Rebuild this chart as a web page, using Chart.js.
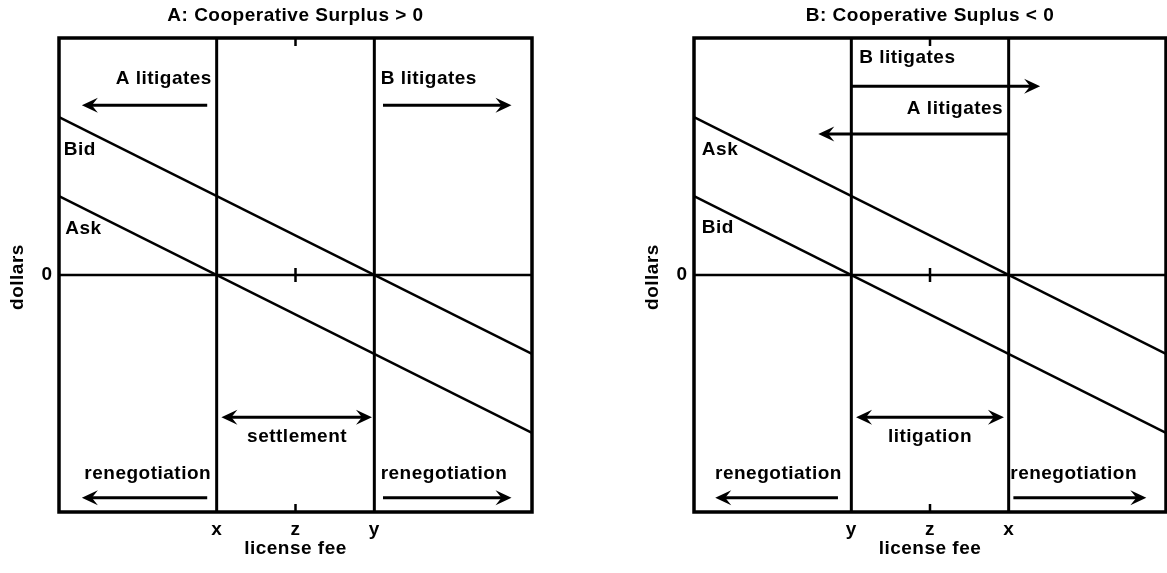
<!DOCTYPE html>
<html>
<head>
<meta charset="utf-8">
<script src="https://cdn.jsdelivr.net/npm/chart.js@4.4.1/dist/chart.umd.min.js"></script>
<style>
  body { margin: 0; background: #fff; }
  #wrap { position: relative; width: 1167px; height: 573px; }
  canvas { position: absolute; top: 0; }
</style>
</head>
<body>
<div id="wrap">
  <canvas id="panelA" width="583" height="573" style="left:0"></canvas>
  <canvas id="panelB" width="584" height="573" style="left:583px"></canvas>
</div>
<script>
// --- data
const feeRange = [0, 3];
const dollarRange = [-3, 3];
const fee = [0, 3];            // ends of both schedules
const upperSchedule = [2, -1]; // crosses zero at fee = 2
const lowerSchedule = [1, -2]; // crosses zero at fee = 1
const cutoffs = [1, 2];
const feeTicks = [1, 1.5, 2];
const feeTickLabelsA = ["x", "z", "y"];
const feeTickLabelsB = ["y", "z", "x"];
const dollarTicks = [0];
const dollarTickLabels = ["0"];
const titles = ["A: Cooperative Surplus > 0", "B: Cooperative Suplus < 0"];
const scheduleNamesA = ["Bid", "Ask"];
const scheduleNamesB = ["Ask", "Bid"];

// texts and arrows, in data units
const notesA = [
  { text: "A litigates", x: 0.97, y: 2.49, align: "right" },
  { text: "B litigates", x: 2.04, y: 2.49, align: "left" },
  { text: scheduleNamesA[0], x: 0.03, y: 1.58, align: "left" },
  { text: scheduleNamesA[1], x: 0.04, y: 0.58, align: "left" },
  { text: "settlement", x: 1.51, y: -2.05, align: "center" },
  { text: "renegotiation", x: 0.965, y: -2.52, align: "right" },
  { text: "renegotiation", x: 2.04, y: -2.52, align: "left" },
];
const arrowsA = [
  { from: [0.94, 2.15], to: [0.145, 2.15] },
  { from: [2.055, 2.15], to: [2.87, 2.15] },
  { from: [0.94, -2.82], to: [0.145, -2.82] },
  { from: [2.055, -2.82], to: [2.87, -2.82] },
  { from: [1.03, -1.8], to: [1.985, -1.8], both: true },
];
const notesB = [
  { text: "B litigates", x: 1.05, y: 2.75, align: "left" },
  { text: "A litigates", x: 1.965, y: 2.1, align: "right" },
  { text: scheduleNamesB[0], x: 0.05, y: 1.58, align: "left" },
  { text: scheduleNamesB[1], x: 0.05, y: 0.6, align: "left" },
  { text: "litigation", x: 1.5, y: -2.05, align: "center" },
  { text: "renegotiation", x: 0.94, y: -2.52, align: "right" },
  { text: "renegotiation", x: 2.01, y: -2.52, align: "left" },
];
const arrowsB = [
  { from: [1.004, 2.39], to: [2.2, 2.39] },
  { from: [1.996, 1.785], to: [0.79, 1.785] },
  { from: [0.915, -2.82], to: [0.135, -2.82] },
  { from: [2.03, -2.82], to: [2.875, -2.82] },
  { from: [1.03, -1.8], to: [1.97, -1.8], both: true },
];

const FONT = 'bold 19px "Liberation Sans", Arial, sans-serif';

function head(ctx, x0, y0, x1, y1) {
  const a = Math.atan2(y1 - y0, x1 - x0);
  const L = 16, W = 7.5, N = 10;
  ctx.save();
  ctx.translate(x1, y1);
  ctx.rotate(a);
  ctx.beginPath();
  ctx.moveTo(0, 0);
  ctx.lineTo(-L, -W);
  ctx.lineTo(-N, 0);
  ctx.lineTo(-L, W);
  ctx.closePath();
  ctx.fill();
  ctx.restore();
}

const panelDecor = {
  id: "panelDecor",
  afterDraw(chart, args, opts) {
    const { ctx, chartArea: ca, scales } = chart;
    const sx = scales.x, sy = scales.y;
    ctx.save();
    ctx.strokeStyle = "#000";
    ctx.fillStyle = "#000";
    ctx.lineCap = "butt";

    // frame
    ctx.lineWidth = 3.5;
    ctx.strokeRect(ca.left, ca.top, ca.right - ca.left, ca.bottom - ca.top);

    // z tick marks
    const zx = sx.getPixelForValue(feeTicks[1]);
    const y0 = sy.getPixelForValue(0);
    ctx.lineWidth = 2.5;
    ctx.beginPath();
    ctx.moveTo(zx, ca.top); ctx.lineTo(zx, ca.top + 8);
    ctx.moveTo(zx, ca.bottom); ctx.lineTo(zx, ca.bottom - 8);
    ctx.moveTo(zx, y0 - 7); ctx.lineTo(zx, y0 + 7);
    ctx.stroke();

    ctx.font = FONT;
    ctx.letterSpacing = "0.5px";
    ctx.textBaseline = "middle";

    // tick labels
    ctx.textAlign = "center";
    feeTicks.forEach((v, i) => {
      ctx.fillText(opts.feeLabels[i], sx.getPixelForValue(v), ca.bottom + 18);
    });
    dollarTicks.forEach((v, i) => {
      ctx.fillText(dollarTickLabels[i], ca.left - 12, sy.getPixelForValue(v));
    });

    // axis titles
    ctx.fillText("license fee", (ca.left + ca.right) / 2, ca.bottom + 37);
    ctx.save();
    ctx.translate(ca.left - 41, (ca.top + ca.bottom) / 2 + 2);
    ctx.rotate(-Math.PI / 2);
    ctx.fillText("dollars", 0, 0);
    ctx.restore();

    // panel title
    ctx.fillText(opts.title, (ca.left + ca.right) / 2, 16);

    // notes
    opts.notes.forEach(n => {
      ctx.textAlign = n.align;
      ctx.fillText(n.text, sx.getPixelForValue(n.x), sy.getPixelForValue(n.y));
    });

    // arrows
    ctx.lineWidth = 3;
    opts.arrows.forEach(a => {
      const x0 = sx.getPixelForValue(a.from[0]), yy0 = sy.getPixelForValue(a.from[1]);
      const x1 = sx.getPixelForValue(a.to[0]), yy1 = sy.getPixelForValue(a.to[1]);
      const dir = Math.sign(x1 - x0);
      ctx.beginPath();
      ctx.moveTo(x0 + (a.both ? dir * 8 : 0), yy0);
      ctx.lineTo(x1 - dir * 8, yy1);
      ctx.stroke();
      head(ctx, x0, yy0, x1, yy1);
      if (a.both) head(ctx, x1, yy1, x0, yy0);
    });
    ctx.restore();
  }
};

function seg(xs, ys) {
  return xs.map((x, i) => ({ x, y: ys[i] }));
}

function makePanel(id, pad, cfg) {
  const lineSet = (data, w) => ({
    data, borderColor: "#000", borderWidth: w, pointRadius: 0,
    showLine: true, fill: false, tension: 0
  });
  return new Chart(document.getElementById(id), {
    type: "scatter",
    data: {
      datasets: [
        lineSet(seg(fee, upperSchedule), 2.5),
        lineSet(seg(fee, lowerSchedule), 2.5),
        lineSet(seg([cutoffs[0], cutoffs[0]], dollarRange), 3),
        lineSet(seg([cutoffs[1], cutoffs[1]], dollarRange), 3),
        lineSet(seg(feeRange, [0, 0]), 2.5),
      ]
    },
    options: {
      responsive: false,
      animation: false,
      devicePixelRatio: 1,
      layout: { padding: pad },
      scales: {
        x: { type: "linear", min: feeRange[0], max: feeRange[1], display: false },
        y: { type: "linear", min: dollarRange[0], max: dollarRange[1], display: false }
      },
      plugins: {
        legend: { display: false },
        tooltip: { enabled: false },
        panelDecor: cfg
      }
    },
    plugins: [panelDecor]
  });
}

makePanel("panelA", { left: 59, right: 51, top: 38, bottom: 61 }, {
  title: titles[0], feeLabels: feeTickLabelsA, notes: notesA, arrows: arrowsA
});
makePanel("panelB", { left: 111, right: 1, top: 38, bottom: 61 }, {
  title: titles[1], feeLabels: feeTickLabelsB, notes: notesB, arrows: arrowsB
});
</script>
</body>
</html>
